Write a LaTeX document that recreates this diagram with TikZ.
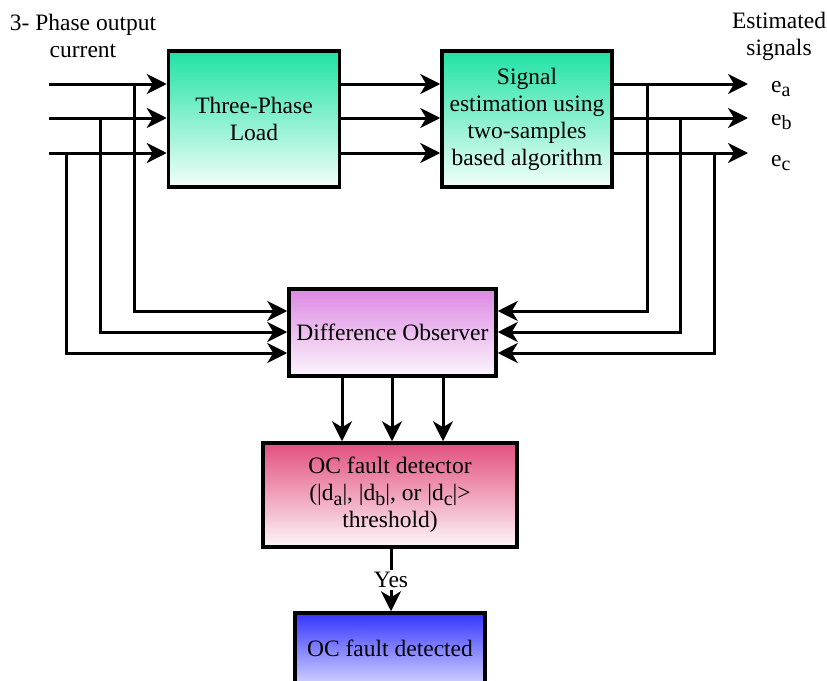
\documentclass[tikz,border=0pt]{standalone}
\usepackage{fontspec}
\setmainfont{Liberation Serif}
\usetikzlibrary{arrows.meta}
\newcommand{\mysub}[1]{\raisebox{-0.45ex}{\fontsize{20}{20}\selectfont #1}}
\definecolor{gtop}{RGB}{32,226,164}
\definecolor{gbot}{RGB}{242,255,250}
\definecolor{ptop}{RGB}{220,136,226}
\definecolor{pbot}{RGB}{252,246,253}
\definecolor{rtop}{RGB}{226,80,126}
\definecolor{rbot}{RGB}{253,246,249}
\definecolor{btop}{RGB}{52,52,255}
\definecolor{bbot}{RGB}{250,250,255}
\begin{document}
\begin{tikzpicture}[x=1pt,y=-1pt,
  txt/.style={font=\fontsize{23.5}{27}\selectfont, align=center, inner sep=0pt},
  blk/.style={draw=black, line width=3.5pt, rectangle, txt, inner sep=0pt},
  conn/.style={line width=3pt},
  arr/.style={conn, -{Stealth[length=20pt,width=20pt,inset=6pt]}},
]
\path[use as bounding box] (0,0) rectangle (827,680);
\clip (0,0) rectangle (827,680);

% blocks
\node[blk, minimum width=171pt, minimum height=136pt, top color=gtop, bottom color=gbot] (load) at (254,119) {Three-Phase\\Load};
\node[blk, minimum width=170pt, minimum height=136pt, top color=gtop, bottom color=gbot] (sig) at (527,119) {Signal\\estimation using\\two-samples\\based algorithm};
\node[blk, minimum width=207pt, minimum height=87pt, top color=ptop, bottom color=pbot] (obs) at (392.5,332.5) {Difference Observer};
\node[blk, minimum width=254pt, minimum height=104pt, top color=rtop, bottom color=rbot] (det) at (390,495) {OC fault detector\\(|d\mysub{a}|, |d\mysub{b}|, or |d\mysub{c}|>\\threshold)};
\node[blk, minimum width=190pt, minimum height=90pt, top color=btop, bottom color=bbot] (done) at (390,658) {};
\node[txt] (donetxt) at (390,648) {OC fault detected};

% labels
\node[txt] (inlbl) at (83,36) {3- Phase output\\current};
\node[txt] (estlbl) at (779,36) {Estimated\\signals};
\node[txt, anchor=base west] (ea) at (771,92) {e\mysub{a}};
\node[txt, anchor=base west] (eb) at (771,125) {e\mysub{b}};
\node[txt, anchor=base west] (ec) at (771,166) {e\mysub{c}};

% input lines
\coordinate (ia) at (49,84);
\coordinate (ib) at (49,118);
\coordinate (ic) at (49,153);
\draw[arr] (ia) -- (load.west |- ia);
\draw[arr] (ib) -- (load.west |- ib);
\draw[arr] (ic) -- (load.west |- ic);

% load -> signal
\draw[arr] (load.east |- 0,84) -- (sig.west |- 0,84);
\draw[arr] (load.east |- 0,118) -- (sig.west |- 0,118);
\draw[arr] (load.east |- 0,153) -- (sig.west |- 0,153);

% outputs
\coordinate (oa) at (748,84);
\coordinate (ob) at (748,118);
\coordinate (oc) at (748,153);
\draw[arr] (sig.east |- oa) -- (oa);
\draw[arr] (sig.east |- ob) -- (ob);
\draw[arr] (sig.east |- oc) -- (oc);

% left taps to observer
\coordinate (ta) at (134,84);
\coordinate (tb) at (100,118);
\coordinate (tc) at (66,153);
\draw[arr] (ta) |- (obs.west |- 0,311);
\draw[arr] (tb) |- (obs.west |- 0,332);
\draw[arr] (tc) |- (obs.west |- 0,353);

% right taps to observer
\coordinate (sa) at (647,84);
\coordinate (sb) at (680,118);
\coordinate (sc) at (714,153);
\draw[arr] (sa) |- (obs.east |- 0,311);
\draw[arr] (sb) |- (obs.east |- 0,332);
\draw[arr] (sc) |- (obs.east |- 0,353);

% observer -> detector
\draw[arr] (obs.south -| 342,0) -- (det.north -| 342,0);
\draw[arr] (obs.south -| 392,0) -- (det.north -| 392,0);
\draw[arr] (obs.south -| 443,0) -- (det.north -| 443,0);

% detector -> detected
\draw[arr] (det.south -| 391,0) -- (done.north -| 391,0);
\node[txt, fill=white, inner sep=2pt] (yes) at (391,580) {Yes};
\end{tikzpicture}
\end{document}
